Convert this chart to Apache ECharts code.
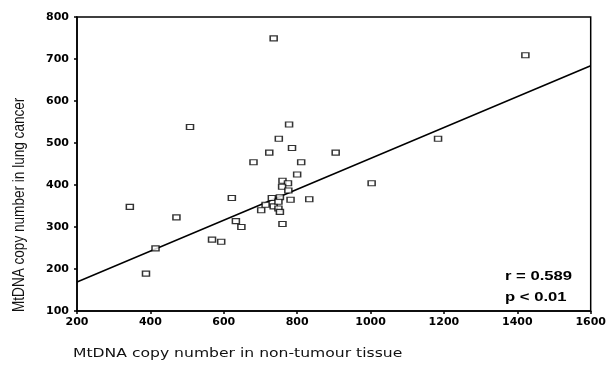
<!DOCTYPE html>
<html>
<head>
<meta charset="utf-8">
<script src="https://cdn.jsdelivr.net/npm/echarts@6/dist/echarts.min.js"></script>
<style>
  html, body { margin: 0; padding: 0; background: #fff; }
  #main { width: 609px; height: 365px; }
</style>
</head>
<body>
<div id="main"></div>
<script>
// non-tumour tissue copy number (x) and lung cancer copy number (y)
var nonTumour = [736, 508, 778, 750, 786, 724, 681, 811, 905, 800, 760, 775, 759, 776,
                 622, 731, 753, 782, 833, 714, 736, 749, 702, 749, 753, 760, 633, 648,
                 568, 593, 471, 344, 414, 388, 1422, 1184, 1003];
var lungCancer = [749, 538, 544, 510, 488, 477, 454, 454, 477, 425, 410, 404, 396, 387,
                  369, 369, 371, 365, 366, 353, 349, 360, 340, 344, 336, 307, 314, 300,
                  270, 265, 323, 348, 249, 189, 709, 510, 404];
// fitted line end points
var fitX = [200, 1600];
var fitY = [169, 684];
var xTicks = [200, 400, 600, 800, 1000, 1200, 1400, 1600];
var yTicks = [100, 200, 300, 400, 500, 600, 700, 800];

var points = nonTumour.map(function (x, i) { return [x, lungCancer[i]]; });
var fit = fitX.map(function (x, i) { return [x, fitY[i]]; });

var tickLabel = {
    color: '#000', fontFamily: 'DejaVu Sans', fontWeight: 'bold', fontSize: 11,
    formatter: function (v) { return String(v); }
};

var myChart = echarts.init(document.getElementById('main'));
myChart.setOption({
    animation: false,
    backgroundColor: '#fff',
    grid: {
        left: 77, right: 15, top: 17, bottom: 54,
        show: true, borderColor: '#000', borderWidth: 1.5
    },
    xAxis: {
        type: 'value',
        min: xTicks[0], max: xTicks[xTicks.length - 1], interval: 200,
        axisLine: { lineStyle: { color: '#000', width: 1.5 } },
        axisTick: { show: true, length: 3, lineStyle: { color: '#000', width: 1.5 } },
        axisLabel: Object.assign({ margin: 6 }, tickLabel),
        splitLine: { show: false }
    },
    yAxis: {
        type: 'value',
        min: yTicks[0], max: yTicks[yTicks.length - 1], interval: 100,
        axisLine: { lineStyle: { color: '#000', width: 1.5 } },
        axisTick: { show: true, length: 3, lineStyle: { color: '#000', width: 1.5 } },
        axisLabel: Object.assign({ margin: 8 }, tickLabel),
        splitLine: { show: false }
    },
    graphic: [
        {
            type: 'text', x: 73, y: 347, scaleX: 1.2,
            style: { text: 'MtDNA copy number in non-tumour tissue', fill: '#111',
                     font: '13px "DejaVu Sans"', verticalAlign: 'top' }
        },
        {
            type: 'text', x: 11, y: 312, rotation: Math.PI / 2, scaleX: 0.97, scaleY: 1.2,
            style: { text: 'MtDNA copy number in lung cancer', fill: '#111',
                     font: '14px "Liberation Sans"',
                     align: 'left', verticalAlign: 'top' }
        },
        {
            type: 'text', x: 505, y: 276, scaleX: 1.28,
            style: { text: 'r = 0.589', fill: '#000', font: 'bold 13px "Liberation Sans"',
                     verticalAlign: 'middle' }
        },
        {
            type: 'text', x: 505, y: 297, scaleX: 1.28,
            style: { text: 'p < 0.01', fill: '#000', font: 'bold 13px "Liberation Sans"',
                     verticalAlign: 'middle' }
        }
    ],
    series: [
        {
            type: 'line',
            data: fit,
            symbol: 'none',
            lineStyle: { color: '#000', width: 1.5 },
            z: 2
        },
        {
            type: 'scatter',
            data: points,
            symbol: 'rect',
            symbolSize: [7, 5],
            itemStyle: { color: '#fff', borderColor: '#000', borderWidth: 1.3 },
            z: 3
        }
    ]
});
</script>
</body>
</html>
